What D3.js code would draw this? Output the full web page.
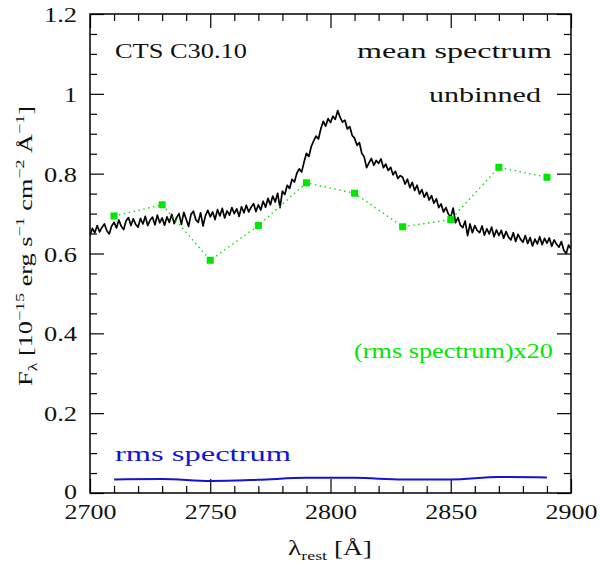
<!DOCTYPE html>
<html>
<head>
<meta charset="utf-8">
<script src="https://cdn.jsdelivr.net/npm/d3@7"></script>
<style>
  html, body { margin: 0; padding: 0; background: #fff; }
  svg { display: block; }
  text { font-family: "Liberation Serif", "DejaVu Serif", serif; white-space: pre; }
</style>
</head>
<body>
<svg id="chart" width="600" height="562"></svg>
<script>
// ---------------- data ----------------
const xMajorTicks = [2700, 2750, 2800, 2850, 2900];
const yMajorTicks = [0, 0.2, 0.4, 0.6, 0.8, 1, 1.2];

// mean spectrum (unbinned), 1 Å sampling from 2700 to 2900
const meanStart = 2700;
const meanFlux = [
  0.645, 0.663, 0.652, 0.670, 0.654, 0.666, 0.674, 0.657, 0.649, 0.669,
  0.678, 0.664, 0.684, 0.668, 0.660, 0.682, 0.690, 0.670, 0.687, 0.673,
  0.666, 0.688, 0.674, 0.693, 0.670, 0.684, 0.691, 0.672, 0.696, 0.677,
  0.689, 0.671, 0.692, 0.678, 0.698, 0.675, 0.690, 0.700, 0.673, 0.703,
  0.686, 0.668, 0.698, 0.706, 0.685, 0.678, 0.702, 0.669, 0.695, 0.708,
  0.692, 0.704, 0.685, 0.710, 0.694, 0.713, 0.689, 0.707, 0.696, 0.715,
  0.700, 0.712, 0.693, 0.717, 0.702, 0.721, 0.704, 0.716, 0.725, 0.705,
  0.722, 0.709, 0.731, 0.716, 0.738, 0.722, 0.744, 0.729, 0.751, 0.715,
  0.756, 0.748, 0.771, 0.763, 0.786, 0.779, 0.801, 0.812, 0.804, 0.829,
  0.851, 0.843, 0.868, 0.882, 0.894, 0.887, 0.913, 0.931, 0.919, 0.938,
  0.928, 0.944, 0.936, 0.958, 0.941, 0.929, 0.934, 0.912, 0.918, 0.896,
  0.889, 0.871, 0.878, 0.851, 0.842, 0.815, 0.827, 0.838, 0.821, 0.833,
  0.826, 0.837, 0.815, 0.824, 0.808, 0.816, 0.797, 0.806, 0.788, 0.795,
  0.791, 0.774, 0.786, 0.765, 0.778, 0.758, 0.771, 0.749, 0.760, 0.741,
  0.753, 0.734, 0.745, 0.726, 0.737, 0.715, 0.724, 0.704, 0.715, 0.699,
  0.691, 0.714, 0.677, 0.690, 0.671, 0.665, 0.681, 0.645, 0.674, 0.652,
  0.670, 0.658, 0.652, 0.669, 0.646, 0.662, 0.649, 0.666, 0.642, 0.659,
  0.645, 0.658, 0.638, 0.655, 0.641, 0.634, 0.652, 0.630, 0.648, 0.636,
  0.628, 0.645, 0.625, 0.640, 0.619, 0.636, 0.624, 0.642, 0.622, 0.638,
  0.626, 0.639, 0.618, 0.634, 0.623, 0.616, 0.630, 0.608, 0.600, 0.621,
  0.612
];

// binned wavelengths
const binWave = [2710, 2730, 2750, 2770, 2790, 2810, 2830, 2850, 2870, 2890];
// (rms spectrum) x 20
const rmsX20 = [0.694, 0.722, 0.583, 0.670, 0.777, 0.751, 0.667, 0.685, 0.816, 0.791];
// rms spectrum
const rmsFlux = [0.034, 0.035, 0.030, 0.033, 0.038, 0.038, 0.034, 0.034, 0.040, 0.039];

// ---------------- layout ----------------
const L = 90, R = 571, T = 14, B = 493;
const svg = d3.select("#chart");
const x = d3.scaleLinear().domain([2700, 2900]).range([L, R]);
const y = d3.scaleLinear().domain([0, 1.2]).range([B, T]);

const xMinor = d3.range(2700, 2901, 10).filter(v => v % 50 !== 0);
const yMinor = d3.range(0, 24).map(i => i * 0.05).filter((v, i) => i % 4 !== 0);

const GREEN = "#00e600";
const BLUE = "#1414d2";

function stretch(sel) {
  sel.attr("textLength", function () {
    const s = this.textContent;
    let w = 0;
    for (const c of s) w += (c === "." ? 7 : 13);
    return w;
  }).attr("lengthAdjust", "spacingAndGlyphs");
}

function styleAxis(g) {
  g.select(".domain").remove();
  g.selectAll(".tick line").attr("stroke", "#000").attr("stroke-width", 1.2);
  g.selectAll("text").attr("fill", "#111").style("font-size", "20px")
    .style("font-family", '"Liberation Serif", serif');
}

// bottom
svg.append("g").attr("transform", `translate(0,${B})`)
  .call(d3.axisBottom(x).tickValues(xMajorTicks).tickSize(-14).tickPadding(12).tickFormat(d3.format("d")))
  .call(styleAxis).call(g => g.selectAll("text").call(stretch));
svg.append("g").attr("transform", `translate(0,${B})`)
  .call(d3.axisBottom(x).tickValues(xMinor).tickSize(-7).tickFormat(""))
  .call(styleAxis);
// top
svg.append("g").attr("transform", `translate(0,${T})`)
  .call(d3.axisTop(x).tickValues(xMajorTicks).tickSize(-14).tickFormat(""))
  .call(styleAxis);
svg.append("g").attr("transform", `translate(0,${T})`)
  .call(d3.axisTop(x).tickValues(xMinor).tickSize(-7).tickFormat(""))
  .call(styleAxis);
// left
svg.append("g").attr("transform", `translate(${L},0)`)
  .call(d3.axisLeft(y).tickValues(yMajorTicks).tickSize(-14).tickPadding(13).tickFormat(d3.format("~g")))
  .call(styleAxis).call(g => g.selectAll("text").call(stretch).attr("dy", d => d === 0 ? "0.25em" : "0.38em"));
svg.append("g").attr("transform", `translate(${L},0)`)
  .call(d3.axisLeft(y).tickValues(yMinor).tickSize(-7).tickFormat(""))
  .call(styleAxis);
// right
svg.append("g").attr("transform", `translate(${R},0)`)
  .call(d3.axisRight(y).tickValues(yMajorTicks).tickSize(-14).tickFormat(""))
  .call(styleAxis);
svg.append("g").attr("transform", `translate(${R},0)`)
  .call(d3.axisRight(y).tickValues(yMinor).tickSize(-7).tickFormat(""))
  .call(styleAxis);

// frame
svg.append("rect").attr("x", L).attr("y", T).attr("width", R - L).attr("height", B - T)
  .attr("fill", "none").attr("stroke", "#000").attr("stroke-width", 1.5);

// clip
svg.append("clipPath").attr("id", "clip").append("rect")
  .attr("x", L).attr("y", T).attr("width", R - L).attr("height", B - T);
const plot = svg.append("g").attr("clip-path", "url(#clip)");

// mean spectrum
plot.append("path")
  .datum(meanFlux.map((f, i) => [meanStart + i, f]))
  .attr("fill", "none").attr("stroke", "#000").attr("stroke-width", 1.7)
  .attr("stroke-linejoin", "round")
  .attr("d", d3.line().x(d => x(d[0])).y(d => y(d[1])));

// (rms)x20 dotted
const binned = binWave.map((w, i) => ({ w, v: rmsX20[i], r: rmsFlux[i] }));
plot.append("path").datum(binned)
  .attr("fill", "none").attr("stroke", GREEN).attr("stroke-width", 1.4)
  .attr("stroke-dasharray", "1.5,3.5")
  .attr("d", d3.line().x(d => x(d.w)).y(d => y(d.v)));
plot.selectAll("rect.pt").data(binned).enter().append("rect")
  .attr("class", "pt")
  .attr("x", d => x(d.w) - 3.5).attr("y", d => y(d.v) - 3.5)
  .attr("width", 7).attr("height", 7).attr("fill", GREEN);

// rms spectrum
plot.append("path").datum(binned)
  .attr("fill", "none").attr("stroke", BLUE).attr("stroke-width", 2)
  .attr("d", d3.line().curve(d3.curveMonotoneX).x(d => x(d.w)).y(d => y(d.r)));

// labels in plot
function label(txt, xx, yy, anchor, len, color) {
  svg.append("text").attr("x", xx).attr("y", yy).attr("text-anchor", anchor)
    .attr("fill", color).style("font-size", "20px")
    .attr("textLength", len).attr("lengthAdjust", "spacingAndGlyphs").text(txt);
}
label("CTS C30.10", 115, 58, "start", 132, "#111");
label("mean spectrum", 552, 58, "end", 195, "#111");
label("unbinned", 541, 102, "end", 112, "#111");
label("(rms spectrum)x20", 553, 358, "end", 199, GREEN);
label("rms spectrum", 115, 461, "start", 176, BLUE);

// x title
const xt = svg.append("text").attr("x", 330).attr("y", 555).attr("text-anchor", "middle")
  .attr("fill", "#111").style("font-size", "20px").attr("textLength", 84).attr("lengthAdjust", "spacingAndGlyphs");
xt.append("tspan").text("λ");
xt.append("tspan").attr("dy", 5).style("font-size", "13px").text("rest");
xt.append("tspan").attr("dy", -5).text(" [Å]");

// y title
const yt = svg.append("text").attr("transform", "translate(32,246) rotate(-90)")
  .attr("fill", "#111").attr("text-anchor", "middle").style("font-size", "19px")
  .attr("textLength", 280).attr("lengthAdjust", "spacingAndGlyphs");
yt.append("tspan").text("F");
yt.append("tspan").attr("dy", 5).style("font-size", "13px").text("λ");
yt.append("tspan").attr("dy", -5).text(" [10");
yt.append("tspan").attr("dy", -8).style("font-size", "13px").text("−15");
yt.append("tspan").attr("dy", 8).text(" erg s");
yt.append("tspan").attr("dy", -8).style("font-size", "13px").text("−1");
yt.append("tspan").attr("dy", 8).text(" cm");
yt.append("tspan").attr("dy", -8).style("font-size", "13px").text("−2");
yt.append("tspan").attr("dy", 8).text(" Å");
yt.append("tspan").attr("dy", -8).style("font-size", "13px").text("−1");
yt.append("tspan").attr("dy", 8).text("]");
</script>
</body>
</html>
